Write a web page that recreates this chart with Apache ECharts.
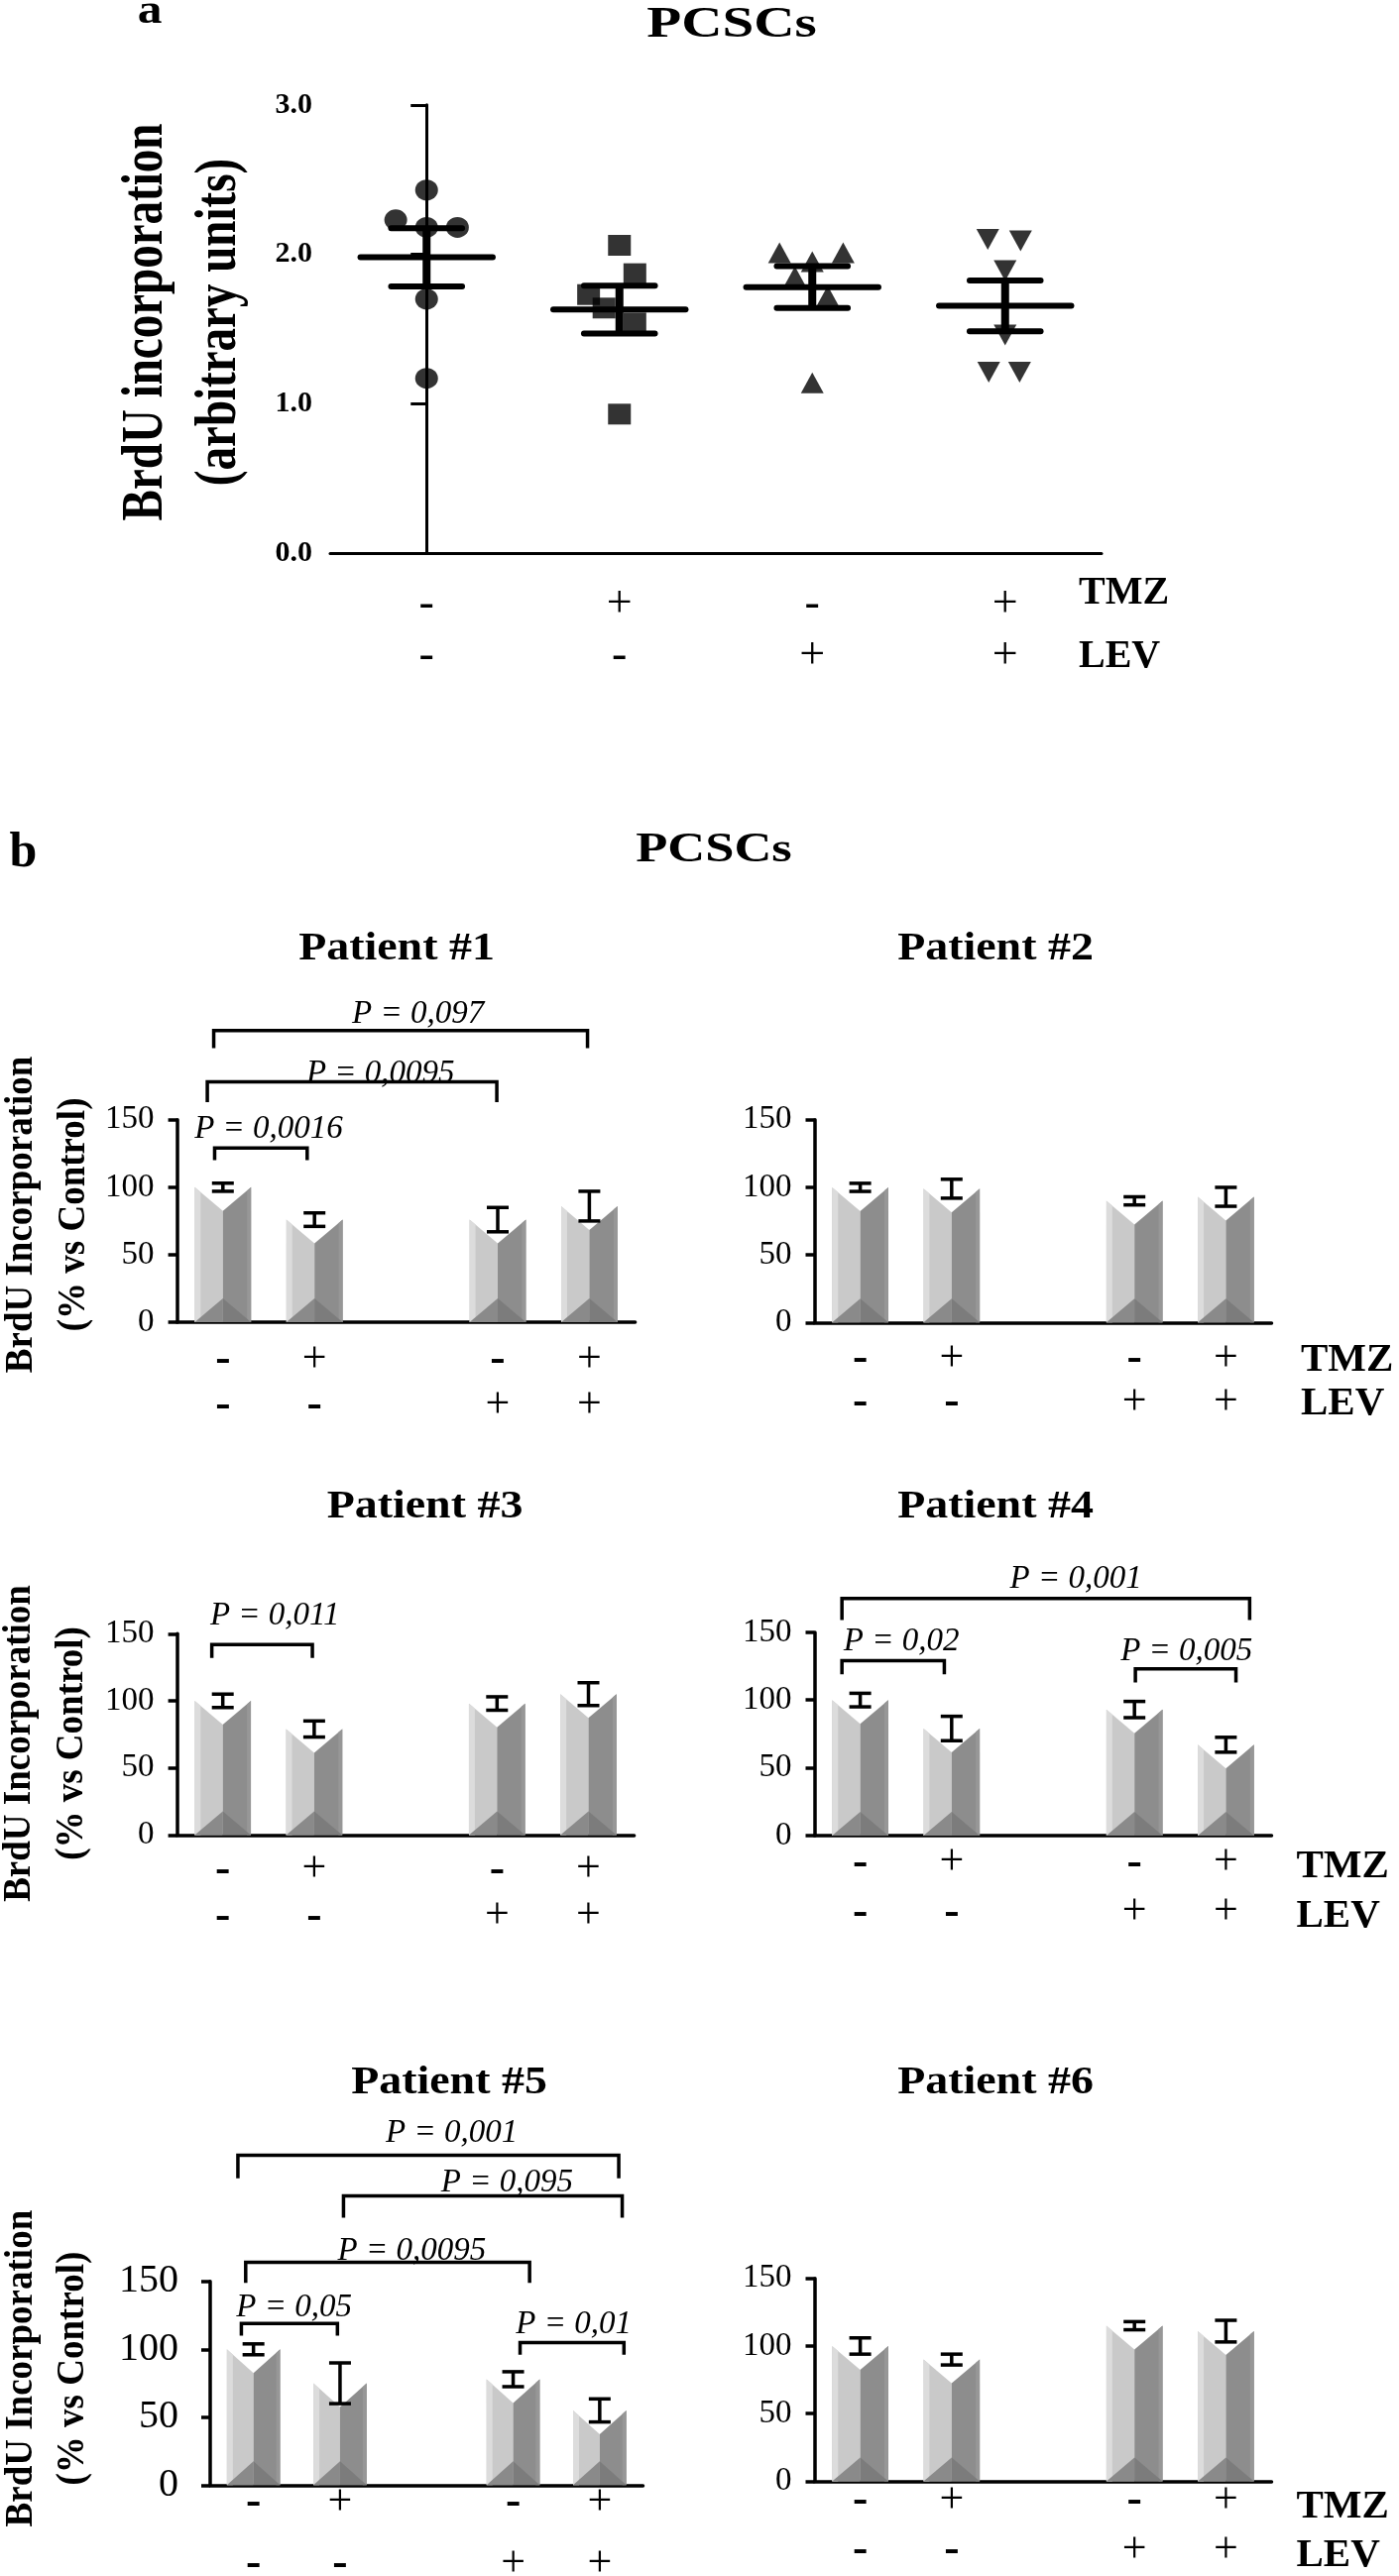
<!DOCTYPE html>
<html><head><meta charset="utf-8"><title>BrdU incorporation - PCSCs</title>
<script src="https://cdn.jsdelivr.net/npm/echarts@6/dist/echarts.min.js"></script>
<style>html,body{margin:0;padding:0;background:#fff;}#chart{width:1411px;height:2599px;}</style>
</head><body><div id="chart"></div>
<script>
const FONT = '"Liberation Serif","Times New Roman",serif';

// ---------------- Panel a data ----------------
const groupsA = ['Control', 'TMZ', 'LEV', 'TMZ+LEV'];
const tmzRowA = ['-', '+', '-', '+'];
const levRowA = ['-', '-', '+', '+'];
const controlPts = [2.43, 2.23, 2.18, 2.18, 1.70, 1.17];
const controlJit = [0, -0.16, 0, 0.16, 0, 0];
const tmzPts = [2.06, 1.87, 1.73, 1.64, 1.54, 0.93];
const tmzJit = [0, 0.08, -0.16, -0.08, 0.08, 0];
const levPts = [2.01, 1.95, 2.01, 1.85, 1.72, 1.14];
const levJit = [-0.17, 0, 0.16, -0.09, 0.08, 0];
const comboPts = [2.10, 2.09, 1.89, 1.46, 1.21, 1.21];
const comboJit = [-0.09, 0.08, 0, 0, -0.085, 0.075];
const meanA = [1.98, 1.63, 1.78, 1.655];
const semA = [0.195, 0.16, 0.14, 0.17];

// ---------------- Panel b data ----------------
const slotsB = ['ctrl', 'tmz', 'gap', 'lev', 'tmz+lev'];
const tmzRowB = ['-', '+', '', '-', '+'];
const levRowB = ['-', '-', '', '+', '+'];
const barSlots = [0, 1, 3, 4];
const p1Vals = [100, 76, 76, 86];   const p1Err = [3, 5, 9, 11];
const p2Vals = [100, 99, 90, 93];   const p2Err = [3, 7, 3, 7];
const p3Vals = [100, 79, 98, 105];  const p3Err = [5, 6, 5, 8.5];
const p4Vals = [100, 79, 93, 67];   const p4Err = [5, 9, 6, 5.5];
const p5Vals = [100, 75, 78, 55];   const p5Err = [4, 15, 5.5, 8.5];
const p6Vals = [100, 90, 115, 111]; const p6Err = [6, 4, 3, 8];

// significance brackets: from/to/tx in slot units, top/leg/ty in axis values
const p1Brackets = [
  {from: -0.09, to: 0.92, top: 129, leg: 120, tx: 0.50, ty: 143, label: 'P = 0,0016'},
  {from: -0.17, to: 2.99, top: 178, leg: 163, tx: 1.72, ty: 184, label: 'P = 0,0095'},
  {from: -0.10, to: 3.98, top: 216, leg: 203, tx: 2.13, ty: 228, label: 'P = 0,097'}
];
const p2Brackets = [];
const p3Brackets = [
  {from: -0.12, to: 0.98, top: 142, leg: 132, tx: 0.57, ty: 163, label: 'P = 0,011'}
];
const p4Brackets = [
  {from: -0.20, to: 4.26, top: 175, leg: 159, tx: 2.36, ty: 189, label: 'P = 0,001'},
  {from: -0.20, to: 0.92, top: 129, leg: 119, tx: 0.45, ty: 143, label: 'P = 0,02'},
  {from: 3.01, to: 4.11, top: 123, leg: 113, tx: 3.57, ty: 136, label: 'P = 0,005'}
];
const p5Brackets = [
  {from: -0.18, to: 4.22, top: 243, leg: 226, tx: 2.29, ty: 259, label: 'P = 0,001'},
  {from: 1.04, to: 4.26, top: 213, leg: 197, tx: 2.93, ty: 222.5, label: 'P = 0,095'},
  {from: -0.09, to: 3.19, top: 164, leg: 149, tx: 1.83, ty: 172, label: 'P = 0,0095'},
  {from: -0.14, to: 0.97, top: 119, leg: 110, tx: 0.47, ty: 130.5, label: 'P = 0,05'},
  {from: 3.08, to: 4.28, top: 105, leg: 96, tx: 3.70, ty: 118.5, label: 'P = 0,01'}
];
const p6Brackets = [];

const patients = [
  {name: 'Patient #1', vals: p1Vals, err: p1Err, brackets: p1Brackets},
  {name: 'Patient #2', vals: p2Vals, err: p2Err, brackets: p2Brackets},
  {name: 'Patient #3', vals: p3Vals, err: p3Err, brackets: p3Brackets},
  {name: 'Patient #4', vals: p4Vals, err: p4Err, brackets: p4Brackets},
  {name: 'Patient #5', vals: p5Vals, err: p5Err, brackets: p5Brackets},
  {name: 'Patient #6', vals: p6Vals, err: p6Err, brackets: p6Brackets}
];

// ---------------- layout (pixels) ----------------
const layoutB = [
  {grid: {left: 178.6, top: 1129.7, width: 462, height: 204.4}, title: [400, 957], tick: 33, tickMargin: 23, rowGap: 46, rowMargin: 15, side: null},
  {grid: {left: 821.5, top: 1129.8, width: 461, height: 204.5}, title: [1004, 957], tick: 33, tickMargin: 23, rowGap: 44, rowMargin: 15, side: [1312, 1372, 1416]},
  {grid: {left: 178.6, top: 1648.3, width: 461, height: 203.1}, title: [428.5, 1520], tick: 33, tickMargin: 23, rowGap: 47, rowMargin: 12, side: null},
  {grid: {left: 821.5, top: 1646.9, width: 461, height: 205}, title: [1004, 1520], tick: 33, tickMargin: 23, rowGap: 50, rowMargin: 3, side: [1307.5, 1883.5, 1933.4]},
  {grid: {left: 212, top: 2301.8, width: 436.5, height: 205.5}, title: [453, 2101], tick: 40, tickMargin: 32, rowGap: 62, rowMargin: -13, side: null},
  {grid: {left: 821.5, top: 2298.7, width: 461, height: 204.8}, title: [1004, 2101], tick: 33, tickMargin: 23, rowGap: 50, rowMargin: -5, side: [1307.5, 2529, 2578]}
];
const yNamesB = [[47.75, 1225.4], [45.75, 1759], [47.5, 2389.6]];

// ---------------- renderers ----------------
function meanSemRender(params, api) {
  const i = api.value(0), m = api.value(1), s = api.value(2);
  const L = api.coord([i - 0.343, m]), R = api.coord([i + 0.343, m]);
  const hi = api.coord([i, m + s]), lo = api.coord([i, m - s]);
  const cl = api.coord([i - 0.184, m])[0], cr = api.coord([i + 0.184, m])[0];
  const st = {stroke: '#000', lineWidth: 6, lineCap: 'round'};
  return {type: 'group', children: [
    {type: 'line', shape: {x1: hi[0], y1: hi[1], x2: lo[0], y2: lo[1]}, style: {stroke: '#000', lineWidth: 8}},
    {type: 'line', shape: {x1: L[0], y1: L[1], x2: R[0], y2: R[1]}, style: st},
    {type: 'line', shape: {x1: cl, y1: hi[1], x2: cr, y2: hi[1]}, style: st},
    {type: 'line', shape: {x1: cl, y1: lo[1], x2: cr, y2: lo[1]}, style: st}
  ]};
}

function barRender(params, api) {
  const slot = api.value(0), v = api.value(1), e = api.value(2);
  const base = api.coord([slot, 0]);
  const topP = api.coord([slot, v]);
  const catW = api.size([1, 0])[0];
  const hw = catW * 0.615 / 2;
  const cx = base[0], x0 = cx - hw, x1 = cx + hw;
  const yb = base[1], yt = topP[1];
  const d = Math.min(24, (yb - yt) / 2.2);
  const hl = 6;
  const ch = [
    {type: 'polygon', shape: {points: [[x0, yt], [cx, yt + d], [cx, yb], [x0, yb]]}, style: {fill: '#c9c9c9'}},
    {type: 'polygon', shape: {points: [[x0, yt], [x0 + hl, yt + hl * d / hw], [x0 + hl, yb], [x0, yb]]}, style: {fill: '#dcdcdc'}},
    {type: 'polygon', shape: {points: [[cx, yt + d], [x1, yt], [x1, yb], [cx, yb]]}, style: {fill: '#8d8d8d'}},
    {type: 'polygon', shape: {points: [[x1 - 4, yt + 4 * d / hw], [x1, yt], [x1, yb], [x1 - 4, yb]]}, style: {fill: '#979797'}},
    {type: 'polygon', shape: {points: [[x0, yb], [cx, yb - d], [cx, yb]]}, style: {fill: '#8a8a8a'}},
    {type: 'polygon', shape: {points: [[cx, yb - d], [x1, yb], [cx, yb]]}, style: {fill: '#7c7c7c'}}
  ];
  const hi = api.coord([slot, v + e])[1], lo = api.coord([slot, v - e])[1];
  const cw = 11;
  const st = {stroke: '#000', lineWidth: 3.5};
  ch.push({type: 'line', shape: {x1: cx, y1: hi, x2: cx, y2: lo}, style: st});
  ch.push({type: 'line', shape: {x1: cx - cw, y1: hi, x2: cx + cw, y2: hi}, style: st});
  ch.push({type: 'line', shape: {x1: cx - cw, y1: lo, x2: cx + cw, y2: lo}, style: st});
  return {type: 'group', children: ch};
}

function makeBracketRender(list) {
  return function (params, api) {
    const b = list[params.dataIndex];
    const p0 = api.coord([0, 0]);
    const catW = api.size([1, 0])[0];
    const X = s => p0[0] + s * catW;
    const Y = v => api.coord([0, v])[1];
    const xa = X(b.from), xb = X(b.to), yt = Y(b.top), yl = Y(b.leg);
    return {type: 'group', children: [
      {type: 'polyline', shape: {points: [[xa, yl], [xa, yt], [xb, yt], [xb, yl]]},
        style: {stroke: '#000', lineWidth: 3.5, fill: null}},
      {type: 'text', x: X(b.tx), y: Y(b.ty),
        style: {text: b.label, font: 'italic 33px ' + FONT, fill: '#000', align: 'center', verticalAlign: 'middle'}}
    ]};
  };
}

// ---------------- option ----------------
const grids = [{left: 333, top: 105.8, width: 778, height: 452.2, containLabel: false, outerBoundsMode: 'none'}];
const xAxes = [
  {type: 'category', gridIndex: 0, data: groupsA, boundaryGap: true,
    axisLine: {lineStyle: {color: '#000', width: 3}},
    axisTick: {alignWithLabel: true, length: 14, lineStyle: {color: '#000', width: 3}},
    axisLabel: {interval: 0, margin: 26, color: '#000', fontFamily: FONT, fontSize: 46, lineHeight: 52,
      formatter: (v, i) => '{p|' + tmzRowA[i] + '}\n{p|' + levRowA[i] + '}',
      rich: {p: {fontFamily: FONT, fontSize: 46, lineHeight: 52, color: '#000'}}},
    splitLine: {show: false}},
  {type: 'value', gridIndex: 0, min: -0.5, max: 3.5, show: false}
];
const yAxes = [
  {type: 'value', gridIndex: 0, min: 0, max: 3, interval: 1,
    axisLine: {show: true, lineStyle: {color: '#000', width: 3}},
    axisTick: {show: true, length: 16, lineStyle: {color: '#000', width: 3}},
    axisLabel: {margin: 18, color: '#000', fontFamily: FONT, fontWeight: 'bold', fontSize: 30, formatter: v => v.toFixed(1)},
    splitLine: {show: false}}
];

const markers = ['circle', 'rect', 'triangle', 'triangle'];
const ptsA = [controlPts, tmzPts, levPts, comboPts];
const jitA = [controlJit, tmzJit, levJit, comboJit];
const series = [];
ptsA.forEach((pts, g) => {
  series.push({type: 'scatter', xAxisIndex: 1, yAxisIndex: 0, symbol: markers[g], symbolRotate: g === 3 ? 180 : 0,
    symbolSize: [23, 21], itemStyle: {color: '#000'}, z: 3, silent: true,
    data: pts.map((v, k) => [g + jitA[g][k], v])});
});
series.push({type: 'custom', xAxisIndex: 1, yAxisIndex: 0, renderItem: meanSemRender, z: 4, silent: true,
  data: meanA.map((m, g) => [g, m, semA[g]])});

const graphics = [
  {type: 'text', x: 151, y: 12, scaleX: 1.15, style: {text: 'a', font: 'bold 43px ' + FONT, fill: '#000', align: 'center', verticalAlign: 'middle'}},
  {type: 'text', x: 738, y: 26, scaleX: 1.3, style: {text: 'PCSCs', font: 'bold 44px ' + FONT, fill: '#000', align: 'center', verticalAlign: 'middle'}},
  {type: 'text', x: 185, y: 325, rotation: Math.PI / 2, scaleY: 1.25, style: {text: 'BrdU incorporation\n(arbitrary units)', font: 'bold 47px ' + FONT, lineHeight: 59, fill: '#000', align: 'center', verticalAlign: 'middle'}},
  {type: 'text', x: 1088, y: 599, style: {text: 'TMZ', font: 'bold 40px ' + FONT, fill: '#000', align: 'left', verticalAlign: 'middle'}},
  {type: 'text', x: 1088, y: 663, style: {text: 'LEV', font: 'bold 40px ' + FONT, fill: '#000', align: 'left', verticalAlign: 'middle'}},
  {type: 'text', x: 23.5, y: 861, style: {text: 'b', font: 'bold 50px ' + FONT, fill: '#000', align: 'center', verticalAlign: 'middle'}},
  {type: 'text', x: 720, y: 858, scaleX: 1.25, style: {text: 'PCSCs', font: 'bold 42px ' + FONT, fill: '#000', align: 'center', verticalAlign: 'middle'}}
];
yNamesB.forEach(p => graphics.push({type: 'text', x: p[0], y: p[1], rotation: Math.PI / 2, scaleY: 1.1,
  style: {text: 'BrdU Incorporation\n(% vs Control)', font: 'bold 37px ' + FONT, lineHeight: 48, fill: '#000', align: 'center', verticalAlign: 'middle'}}));

patients.forEach((pt, k) => {
  const L = layoutB[k];
  const gi = k + 1;      // grid / yAxis index
  const xi = k + 2;      // xAxis index (panel a uses two x axes)
  grids.push(Object.assign({containLabel: false, outerBoundsMode: 'none'}, L.grid));
  xAxes.push({type: 'category', gridIndex: gi, data: slotsB, boundaryGap: true,
    axisLine: {lineStyle: {color: '#000', width: 3.5}},
    axisTick: {show: false},
    axisLabel: {interval: 0, margin: L.rowMargin, color: '#000', fontFamily: FONT, fontSize: 44, lineHeight: L.rowGap,
      formatter: (v, i) => {
        const f = s => s === '-' ? '{m|-}' : (s === '' ? '{p| }' : '{p|' + s + '}');
        return f(tmzRowB[i]) + '\n' + f(levRowB[i]);
      },
      rich: {
        p: {fontFamily: FONT, fontSize: 44, lineHeight: L.rowGap, color: '#000'},
        m: {fontFamily: FONT, fontSize: 46, fontWeight: 'bold', lineHeight: L.rowGap, color: '#000'}
      }},
    splitLine: {show: false}});
  yAxes.push({type: 'value', gridIndex: gi, min: 0, max: 150, interval: 50,
    axisLine: {show: true, lineStyle: {color: '#000', width: 3.5}},
    axisTick: {show: true, length: 9, lineStyle: {color: '#000', width: 3.5}},
    axisLabel: {margin: L.tickMargin, color: '#000', fontFamily: FONT, fontSize: L.tick},
    splitLine: {show: false}});
  series.push({type: 'custom', xAxisIndex: xi, yAxisIndex: gi, renderItem: barRender, z: 2, silent: true,
    data: pt.vals.map((v, j) => [barSlots[j], v, pt.err[j]])});
  if (pt.brackets.length) {
    series.push({type: 'custom', xAxisIndex: xi, yAxisIndex: gi, renderItem: makeBracketRender(pt.brackets), clip: false, z: 5, silent: true,
      data: pt.brackets.map(b => [0, b.top])});
  }
  graphics.push({type: 'text', x: L.title[0], y: L.title[1], scaleX: 1.12,
    style: {text: pt.name, font: 'bold 41px ' + FONT, fill: '#000', align: 'center', verticalAlign: 'middle'}});
  if (L.side) {
    graphics.push({type: 'text', x: L.side[0], y: L.side[1], style: {text: 'TMZ', font: 'bold 41px ' + FONT, fill: '#000', align: 'left', verticalAlign: 'middle'}});
    graphics.push({type: 'text', x: L.side[0], y: L.side[2], style: {text: 'LEV', font: 'bold 41px ' + FONT, fill: '#000', align: 'left', verticalAlign: 'middle'}});
  }
});

const chart = echarts.init(document.getElementById('chart'), null, {renderer: 'canvas', width: 1411, height: 2599});
chart.setOption({
  backgroundColor: '#fff',
  animation: false,
  grid: grids,
  xAxis: xAxes,
  yAxis: yAxes,
  series: series,
  graphic: graphics
});
</script>
</body></html>
